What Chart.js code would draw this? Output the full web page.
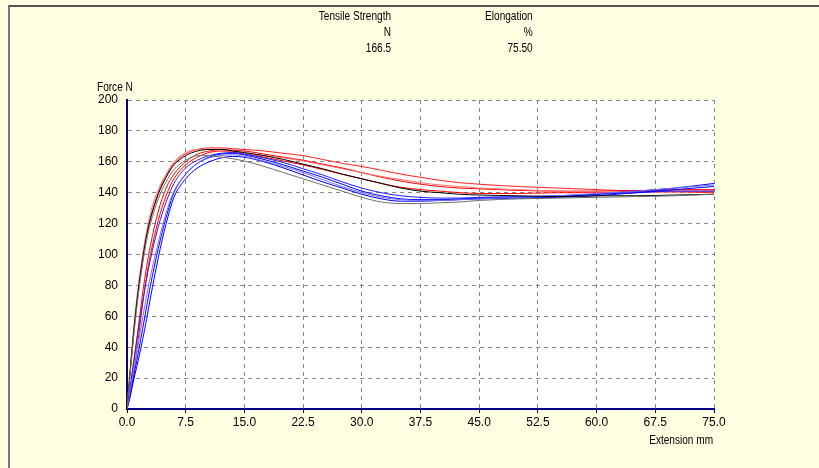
<!DOCTYPE html>
<html>
<head>
<meta charset="utf-8">
<script src="https://cdn.jsdelivr.net/npm/chart.js@4"></script>
<style>
  html, body { margin: 0; padding: 0; background: #ffffe1; }
  #wrap { position: relative; width: 819px; height: 468px; overflow: hidden; font-family: "Liberation Sans", Arial, sans-serif; font-size: 12px; color: #000; }
  #frame { position: absolute; left: 8px; top: 5px; right: -10px; bottom: -10px; border-top: 2px solid #555; border-left: 2px solid #777; }
  .lbl { position: absolute; white-space: nowrap; line-height: 16px; transform: scaleX(0.84); }
  .r { transform-origin: right top; text-align: right; }
  .l { transform-origin: left top; }
  canvas { position: absolute; left: 0; top: 0; }
</style>
</head>
<body>
<div id="wrap">
  <div id="frame"></div>
  <canvas id="chart" width="819" height="468"></canvas>
  <div class="lbl r" style="right:428px;top:8px">Tensile Strength<br>N<br>166.5</div>
  <div class="lbl r" style="right:286px;top:8px">Elongation<br>%<br>75.50</div>
  <div class="lbl l" style="left:97px;top:79px">Force N</div>
  <div class="lbl r" style="right:106px;top:432px">Extension mm</div>
</div>
<script>
const extension = [0, 0.5, 1, 1.5, 2, 2.5, 3, 4, 5, 6, 7.5, 9, 10.5, 12, 13.5, 15, 17.5, 20, 22.5, 25, 27.5, 30, 32.5, 35, 37.5, 40, 42.5, 45, 50, 55, 60, 65, 70, 75];

const redA   = [0, 30, 58, 80, 98, 113, 124, 140, 151, 159, 165, 168, 169, 169, 168.5, 168, 167, 165.5, 164, 161.5, 159, 157, 154.5, 152, 150, 148, 146.5, 145.5, 144, 143, 142, 141, 140.5, 140];
const redB   = [0, 15, 35, 55, 75, 92, 106, 128, 143, 152, 160, 165, 167, 168, 167.5, 167, 165, 163, 161, 158.5, 156, 153, 150, 147.5, 145.5, 144, 143, 142.5, 141.5, 141, 141, 141.5, 141, 141];
const redC   = [0, 10, 28, 48, 68, 86, 100, 122, 138, 149, 158, 163, 166, 167, 166.5, 165.5, 163, 160.5, 158, 155, 152, 149, 146, 143.5, 142, 141, 140, 139.5, 139.5, 140, 140, 141, 142, 142];
const salmon = [0, 32, 60, 82, 100, 115, 127, 142, 152, 160, 166, 168, 168, 167.5, 166.5, 165.5, 164, 162.5, 160.5, 158, 155.5, 153, 150.5, 148.5, 146.5, 145, 144, 143, 142, 141, 140.5, 140, 140.5, 141];
const black  = [0, 30, 57, 79, 97, 112, 123, 139, 150, 158, 164, 167, 168, 168, 167, 166, 164, 161.5, 158.5, 155.5, 152, 149, 146, 143, 141, 140, 139, 138.5, 138, 137.5, 138, 138, 138.5, 139];
const gray   = [0, 28, 54, 76, 94, 109, 120, 136, 147, 155, 161, 164, 164, 163, 162, 160.5, 157, 153, 149, 145, 141, 137, 134, 133, 133, 133.5, 134, 135, 136, 136.5, 137, 137.5, 138, 139];
const blueG  = [0, 11, 22, 33, 45, 58, 72, 98, 120, 137, 149, 156, 160, 162.5, 163.5, 163, 160, 156, 151.5, 147, 143, 139, 136, 134.5, 134.5, 135, 135.5, 136, 136.5, 137, 138, 140, 142, 144];
const blueH  = [0, 13, 25, 38, 52, 66, 80, 104, 124, 140, 152, 159, 163, 165, 165.5, 164.5, 161.5, 158, 154, 150, 145.5, 141, 138, 136, 135.5, 135.5, 136, 136.5, 137, 137.5, 139, 141, 143, 146];
const blueI  = [0, 18, 36, 53, 69, 84, 97, 118, 134, 146, 156, 161, 164, 165.5, 166, 165, 162.5, 159.5, 155.5, 151.5, 147, 143, 140, 138, 137, 136.5, 136.5, 137, 137.5, 138, 139, 140, 141, 141];
const blueJ  = [0, 15, 29, 44, 59, 73, 86, 108, 127, 141, 152, 159, 162.5, 164, 164.5, 163.5, 160.5, 157, 153, 148.5, 144, 140, 137, 135.5, 135, 135, 135.5, 136, 137, 138, 139.5, 141, 143, 145];

const seriesList = [
  [gray, '#707070'], [black, '#000000'],
  [blueJ, '#7070ff'], [blueG, '#0000ff'], [blueH, '#0000ff'], [blueI, '#2020ff'],
  [salmon, '#ff7070'], [redC, '#ff0000'], [redB, '#ff0000'], [redA, '#ff2020']
];

const whiteArea = {
  id: 'whiteArea',
  beforeDraw(chart) {
    const a = chart.chartArea;
    const ctx = chart.ctx;
    ctx.save();
    ctx.fillStyle = '#ffffff';
    ctx.fillRect(a.left, a.top, a.right - a.left, a.bottom - a.top);
    ctx.restore();
  }
};

const tickFont = { family: '"Liberation Sans", Arial, sans-serif', size: 12 };

const ctx = document.getElementById('chart').getContext('2d');
new Chart(ctx, {
  type: 'line',
  data: {
    datasets: seriesList.map(([vals, color]) => ({
      data: extension.map((x, i) => ({ x: x, y: vals[i] })),
      borderColor: color,
      borderWidth: 1,
      pointRadius: 0,
      cubicInterpolationMode: 'monotone',
      fill: false
    }))
  },
  options: {
    responsive: false,
    animation: false,
    layout: { padding: { left: 0, right: 105, top: 100, bottom: 0 } },
    plugins: { legend: { display: false }, tooltip: { enabled: false } },
    scales: {
      x: {
        type: 'linear',
        min: 0,
        max: 75,
        afterBuildTicks(scale) {
          const t = [];
          for (let v = 0; v <= 75; v += 7.5) t.push({ value: v });
          scale.ticks = t;
        },
        afterFit(scale) { scale.height = 59; },
        ticks: {
          color: '#000',
          font: tickFont,
          maxRotation: 0,
          padding: 2,
          callback: v => Number(v).toFixed(1)
        },
        grid: { color: '#8a8a8a', tickLength: 4, tickColor: '#000080' },
        border: { color: '#000080', width: 2, dash: [4, 4] }
      },
      y: {
        min: 0,
        max: 200,
        afterFit(scale) { scale.width = 127; },
        ticks: {
          stepSize: 20,
          color: '#000',
          font: tickFont,
          padding: 9
        },
        grid: { color: '#8a8a8a', drawTicks: false },
        border: { color: '#000080', width: 2, dash: [4, 4] }
      }
    }
  },
  plugins: [whiteArea]
});
</script>
</body>
</html>
